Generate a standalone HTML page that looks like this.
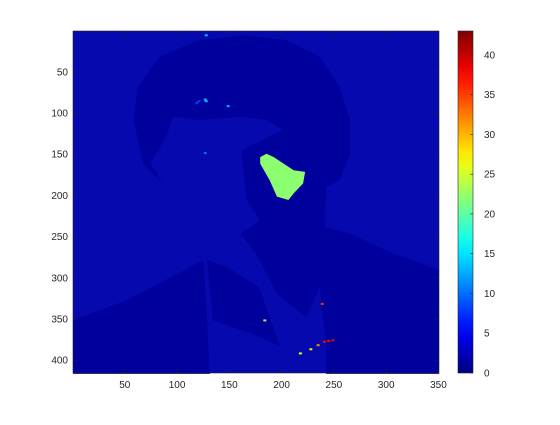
<!DOCTYPE html>
<html><head><meta charset="utf-8"><style>
body{margin:0;background:#fff;width:560px;height:420px;overflow:hidden}
svg text{font-family:"Liberation Sans",sans-serif;font-size:10px;fill:#262626}
</style></head><body>
<svg id="chart" width="560" height="420" viewBox="0 0 560 420" xmlns="http://www.w3.org/2000/svg"></svg>
<script>
const xTicks=[50,100,150,200,250,300,350];
const yTicks=[50,100,150,200,250,300,350,400];
const cbTicks=[0,5,10,15,20,25,30,35,40];
const cbMax=43;
const darkRegion=[[58,108],[62,68],[83,31],[121,11],[166,5],[204,11],[236,31],[255,68],[265,108],[265,149],[255,181],[242,189],[241,238],[265,246],[306,270],[350,290],[350,416],[242,416],[242,383],[236,311],[223,347],[195,319],[175,270],[160,246],[179,230],[166,205],[161,145],[201,120],[185,108],[160,104],[121,108],[96,104],[89,128],[74,161],[86,185],[67,161]];
const jacketLeft=[[0,351],[51,327],[125,278],[131,416],[0,416]];
const shirtStripe=[[128,278],[147,286],[178,311],[198,383],[179,371],[134,351]];
const greenRegion=[[179,153],[185,149],[192,153],[211,169],[222,171],[220,185],[211,197],[206,205],[195,201],[188,181],[179,161]];
const specks=[[117,86,8],[119,84,8],[125,82,13],[126,84,13],[147,90,13],[125,147,10],[237,330,36],[239,376,38],[243,375,38],[247,374,38],[233,380,32],[226,385,28],[216,390,25],[182,350,22],[126,4,13]];
const X0=73,X1=439,Y0=31,Y1=373;
const sx=c=>X0+(c)*(X1-X0)/350;
const sy=r=>Y0+(r)*(Y1-Y0)/415;
const cbY=v=>Y1-v*(Y1-Y0)/cbMax;
function jet(t){const r=Math.min(Math.max(1.5-Math.abs(4*t-3),0),1),g=Math.min(Math.max(1.5-Math.abs(4*t-2),0),1),b=Math.min(Math.max(1.5-Math.abs(4*t-1),0),1);return `rgb(${Math.round(r*255)},${Math.round(g*255)},${Math.round(b*255)})`;}
const svg=document.getElementById('chart');const NS='http://www.w3.org/2000/svg';
function mk(tag,attrs,parent){const e=document.createElementNS(NS,tag);for(const k in attrs)e.setAttribute(k,attrs[k]);(parent||svg).appendChild(e);return e;}
let e=mk('rect',{x:X0,y:Y0,width:X1-X0,height:Y1-Y0,fill:'#0609ad'});


function poly(pts,fill,name){const p=mk('polygon',{points:pts.map(q=>sx(q[0])+','+sy(q[1])).join(' '),fill:fill});

}
poly(darkRegion,'#00009c','dark-region');
poly(jacketLeft,'#00009c','jacket-left');
poly(shirtStripe,'#00009c','shirt-stripe');
poly(greenRegion,'#8cff70','green-region');
specks.forEach(s=>{const r=mk('rect',{x:sx(s[0]),y:sy(s[1]),width:3,height:2,fill:jet(s[2]/cbMax)});

});
e=mk('rect',{x:X0,y:Y0,width:X1-X0,height:Y1-Y0,fill:'none',stroke:'#262626','stroke-width':0.6});


xTicks.forEach(v=>{const x=sx(v-0.5);mk('line',{x1:x,x2:x,y1:Y1,y2:Y1-4,stroke:'#262626','stroke-width':0.6});mk('line',{x1:x,x2:x,y1:Y0,y2:Y0+4,stroke:'#262626','stroke-width':0.6});
const t=mk('text',{x:x,y:Y1+15,'text-anchor':'middle'});t.textContent=v;

});
yTicks.forEach(v=>{const y=sy(v-0.5);mk('line',{x1:X0,x2:X0+4,y1:y,y2:y,stroke:'#262626','stroke-width':0.6});mk('line',{x1:X1,x2:X1-4,y1:y,y2:y,stroke:'#262626','stroke-width':0.6});
const t=mk('text',{x:X0-5,y:y+3.5,'text-anchor':'end'});t.textContent=v;

});
// colorbar
const CB0=458,CB1=473;
const defs=mk('defs',{});const g=mk('linearGradient',{id:'jet',x1:0,y1:1,x2:0,y2:0},defs);
for(let i=0;i<=20;i++){mk('stop',{offset:(i/20),'stop-color':jet(i/20)},g);}
e=mk('rect',{x:CB0,y:Y0,width:CB1-CB0,height:Y1-Y0,fill:'url(#jet)',stroke:'#262626','stroke-width':0.6});


cbTicks.forEach(v=>{const y=cbY(v);mk('line',{x1:CB1,x2:CB1-3,y1:y,y2:y,stroke:'#262626','stroke-width':0.6});
const t=mk('text',{x:CB1+11,y:y+3.5});t.textContent=v;

});
</script>
</body></html>
